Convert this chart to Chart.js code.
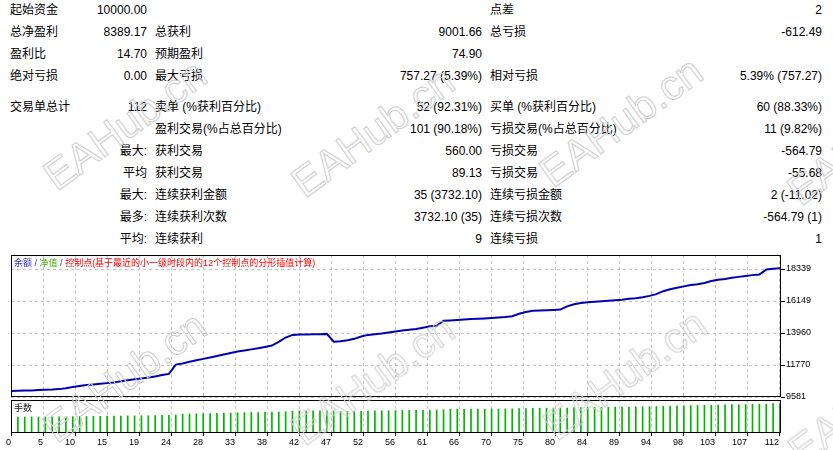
<!DOCTYPE html>
<html lang="zh-CN">
<head>
<meta charset="utf-8">
<title>策略测试报告</title>
<script src="https://cdn.jsdelivr.net/npm/chart.js@4.4.1/dist/chart.umd.min.js"></script>
<style>
body { margin: 0; background: #fff; font-family: "Liberation Sans", "Noto Sans CJK SC", sans-serif; }
#page { position: relative; width: 833px; height: 450px; overflow: hidden; background: #fff; }
.row { position: absolute; left: 0; width: 833px; height: 16px; font-size: 12px; line-height: 16px; color: #000; }
.row span { position: absolute; top: 0; white-space: nowrap; }
.c1 { left: 10px; }
.c2 { right: 686px; }
.c3 { left: 155px; }
.c4 { right: 351px; }
.c5 { left: 490px; }
.c6 { right: 11px; }
canvas { position: absolute; left: 0; }
#balanceChart { top: 250px; }
#lotsChart { top: 397px; }
.note { position: absolute; font-size: 9px; line-height: 11px; white-space: nowrap; }
.wm { position: absolute; font: 42px "Liberation Sans", sans-serif; color: transparent;
      -webkit-text-stroke: 1px #cdcdcd; transform: translate(-50%, -50%) rotate(-36deg);
      white-space: nowrap; pointer-events: none; z-index: 5; }
</style>
</head>
<body>
<div id="page">
  <div class="row" style="top:2px"><span class="c1">起始资金</span><span class="c2">10000.00</span><span class="c5">点差</span><span class="c6">2</span></div>
  <div class="row" style="top:24px"><span class="c1">总净盈利</span><span class="c2">8389.17</span><span class="c3">总获利</span><span class="c4">9001.66</span><span class="c5">总亏损</span><span class="c6">-612.49</span></div>
  <div class="row" style="top:46px"><span class="c1">盈利比</span><span class="c2">14.70</span><span class="c3">预期盈利</span><span class="c4">74.90</span></div>
  <div class="row" style="top:68px"><span class="c1">绝对亏损</span><span class="c2">0.00</span><span class="c3">最大亏损</span><span class="c4">757.27 (5.39%)</span><span class="c5">相对亏损</span><span class="c6">5.39% (757.27)</span></div>
  <div class="row" style="top:99px"><span class="c1">交易单总计</span><span class="c2">112</span><span class="c3">卖单 (%获利百分比)</span><span class="c4">52 (92.31%)</span><span class="c5">买单 (%获利百分比)</span><span class="c6">60 (88.33%)</span></div>
  <div class="row" style="top:121px"><span class="c3">盈利交易(%占总百分比)</span><span class="c4">101 (90.18%)</span><span class="c5">亏损交易(%占总百分比)</span><span class="c6">11 (9.82%)</span></div>
  <div class="row" style="top:143px"><span class="c2">最大:</span><span class="c3">获利交易</span><span class="c4">560.00</span><span class="c5">亏损交易</span><span class="c6">-564.79</span></div>
  <div class="row" style="top:165px"><span class="c2">平均</span><span class="c3">获利交易</span><span class="c4">89.13</span><span class="c5">亏损交易</span><span class="c6">-55.68</span></div>
  <div class="row" style="top:187px"><span class="c2">最大:</span><span class="c3">连续获利金额</span><span class="c4">35 (3732.10)</span><span class="c5">连续亏损金额</span><span class="c6">2 (-11.02)</span></div>
  <div class="row" style="top:209px"><span class="c2">最多:</span><span class="c3">连续获利次数</span><span class="c4">3732.10 (35)</span><span class="c5">连续亏损次数</span><span class="c6">-564.79 (1)</span></div>
  <div class="row" style="top:231px"><span class="c2">平均:</span><span class="c3">连续获利</span><span class="c4">9</span><span class="c5">连续亏损</span><span class="c6">1</span></div>

  <canvas id="balanceChart" width="833" height="155"></canvas>
  <canvas id="lotsChart" width="833" height="53"></canvas>

  <div class="note" style="left:14px; top:258px; z-index:3"><span style="color:#3030c0">余额</span> <span style="color:#3030c0">/</span> <span style="color:#44aa00">净值</span> <span style="color:#3030c0">/</span> <span style="color:#ff0000">控制点(基于最近的小一级时段内的12个控制点的分形插值计算)</span></div>
  <div class="note" style="left:14px; top:403px; color:#222; z-index:3">手数</div>

  <div class="wm" style="left:125px; top:125px">EAHub.cn</div>
  <div class="wm" style="left:373px; top:132px">EAHub.cn</div>
  <div class="wm" style="left:621px; top:122px">EAHub.cn</div>
  <div class="wm" style="left:869px; top:140px">EAHub.cn</div>
  <div class="wm" style="left:125px; top:377px">EAHub.cn</div>
  <div class="wm" style="left:373px; top:380px">EAHub.cn</div>
  <div class="wm" style="left:625px; top:375px">EAHub.cn</div>
  <div class="wm" style="left:870px; top:400px">EAHub.cn</div>
</div>

<script>
// 余额 (每笔交易后), 下标 = 交易序号
const balance = [
    10000, 10010, 10020, 10030, 10060, 10080, 10090, 10120, 10180, 10260,
    10330, 10400, 10440, 10480, 10530, 10580, 10660, 10730, 10790, 10840,
    10910, 10990, 11080, 11160, 11800, 11880, 11990, 12100, 12190, 12290,
    12390, 12490, 12590, 12690, 12770, 12840, 12910, 13000, 13100, 13350,
    13650, 13830, 13850, 13860, 13870, 13880, 13900, 13360, 13400, 13470,
    13560, 13720, 13830, 13870, 13920, 13990, 14060, 14130, 14180, 14230,
    14320, 14420, 14460, 14800, 14820, 14850, 14880, 14910, 14930, 14960,
    14990, 15020, 15050, 15110, 15280, 15400, 15480, 15500, 15520, 15540,
    15560, 15780, 15930, 16010, 16060, 16100, 16130, 16170, 16200, 16240,
    16300, 16340, 16400, 16500, 16620, 16820, 16950, 17050, 17150, 17240,
    17300, 17380, 17520, 17600, 17660, 17740, 17800, 17860, 17920, 17960,
    18300, 18360, 18389.17
];

// 手数 (交易 1..112)
const lots = [
    1.00, 1.00, 1.00, 1.00, 1.01, 1.01, 1.01, 1.01, 1.02, 1.03,
    1.03, 1.04, 1.04, 1.05, 1.05, 1.06, 1.07, 1.07, 1.08, 1.08,
    1.09, 1.10, 1.11, 1.12, 1.18, 1.19, 1.20, 1.21, 1.22, 1.23,
    1.24, 1.25, 1.26, 1.27, 1.28, 1.28, 1.29, 1.30, 1.31, 1.33,
    1.36, 1.38, 1.38, 1.38, 1.38, 1.39, 1.39, 1.34, 1.34, 1.34,
    1.35, 1.37, 1.38, 1.39, 1.39, 1.40, 1.41, 1.41, 1.42, 1.42,
    1.43, 1.44, 1.45, 1.48, 1.48, 1.48, 1.49, 1.49, 1.49, 1.50,
    1.50, 1.50, 1.51, 1.52, 1.53, 1.54, 1.55, 1.55, 1.55, 1.55,
    1.56, 1.58, 1.59, 1.60, 1.61, 1.61, 1.61, 1.62, 1.62, 1.62,
    1.63, 1.63, 1.64, 1.65, 1.66, 1.68, 1.70, 1.70, 1.71, 1.72,
    1.73, 1.74, 1.75, 1.76, 1.77, 1.77, 1.78, 1.79, 1.79, 1.80,
    1.83, 1.84
];

// 横轴刻度文字 (每格一个)
const xTickLabels = ['0', '5', '10', '15', '19', '24', '28', '33', '38', '42', '47', '52', '56',
    '61', '66', '70', '75', '80', '84', '89', '94', '98', '103', '107', '112'];

// 纵轴刻度
const yTickValues = [9581, 11770, 13960, 16149, 18339];

// 坐标范围, 让网格和原图对齐
const X_MAX = 112.15;
const X_STEP = 4.661;
const Y_MIN = 9581;
const Y_MAX = 19297;
const LOT_MAX = 2.06;

const GRID_COLOR = '#c4c4c4';
const TICK_FONT = { family: 'Liberation Sans', size: 9 };

// 画图表区的黑框
const frame = {
    id: 'frame',
    afterDraw(chart) {
        const a = chart.chartArea;
        const ctx = chart.ctx;
        ctx.save();
        ctx.strokeStyle = '#000';
        ctx.lineWidth = 1;
        ctx.strokeRect(Math.round(a.left) + 0.5, Math.round(a.top) + 0.5,
            Math.round(a.right - a.left) - 1, Math.round(a.bottom - a.top) - 1);
        ctx.restore();
    }
};

function xScale(showLabels) {
    return {
        type: 'linear',
        min: 0,
        max: X_MAX,
        offset: false,
        afterBuildTicks: s => {
            s.ticks = xTickLabels.map((t, k) => ({ value: k * X_STEP }));
        },
        afterFit: s => {
            s.paddingLeft = 0;
            s.paddingRight = 0;
            s.height = showLabels ? 17 : 0;
        },
        grid: { offset: false, color: GRID_COLOR, drawTicks: showLabels, tickLength: 3, tickColor: '#000', tickBorderDash: [] },
        border: { display: false, dash: [3, 3] },
        ticks: {
            display: showLabels,
            align: 'end',
            autoSkip: false,
            maxRotation: 0,
            padding: 1,
            color: '#000',
            font: TICK_FONT,
            callback: (v, k) => xTickLabels[k]
        }
    };
}

// 余额曲线
new Chart(document.getElementById('balanceChart'), {
    type: 'line',
    data: {
        datasets: [{
            label: '余额',
            data: balance.map((v, i) => ({ x: i, y: v })),
            borderColor: '#0000b0',
            borderWidth: 2,
            pointRadius: 0,
            tension: 0,
            fill: false
        }]
    },
    options: {
        animation: false,
        responsive: false,
        layout: { padding: { left: 11, top: 5, right: 0, bottom: 8 } },
        plugins: { legend: { display: false }, tooltip: { enabled: false } },
        scales: {
            x: xScale(false),
            y: {
                type: 'linear',
                position: 'right',
                min: Y_MIN,
                max: Y_MAX,
                afterBuildTicks: s => {
                    s.ticks = yTickValues.map(v => ({ value: v }));
                },
                afterFit: s => {
                    s.width = 52;
                    s.paddingTop = 0;
                    s.paddingBottom = 0;
                },
                grid: { color: GRID_COLOR, tickLength: 4, tickColor: '#000', tickBorderDash: [] },
                border: { display: false, dash: [3, 3] },
                ticks: { padding: 1, color: '#000', font: TICK_FONT, callback: v => String(v) }
            }
        }
    },
    plugins: [frame]
});

// 手数柱
new Chart(document.getElementById('lotsChart'), {
    type: 'bar',
    data: {
        datasets: [{
            label: '手数',
            data: lots.map((v, k) => ({ x: k + 1, y: v })),
            backgroundColor: '#00b400',
            borderWidth: 0,
            barThickness: 1
        }]
    },
    options: {
        animation: false,
        responsive: false,
        layout: { padding: { left: 11, top: 3, right: 52, bottom: 0 } },
        plugins: { legend: { display: false }, tooltip: { enabled: false } },
        scales: {
            x: xScale(true),
            y: { display: false, min: 0, max: LOT_MAX }
        }
    },
    plugins: [frame]
});
</script>
</body>
</html>
